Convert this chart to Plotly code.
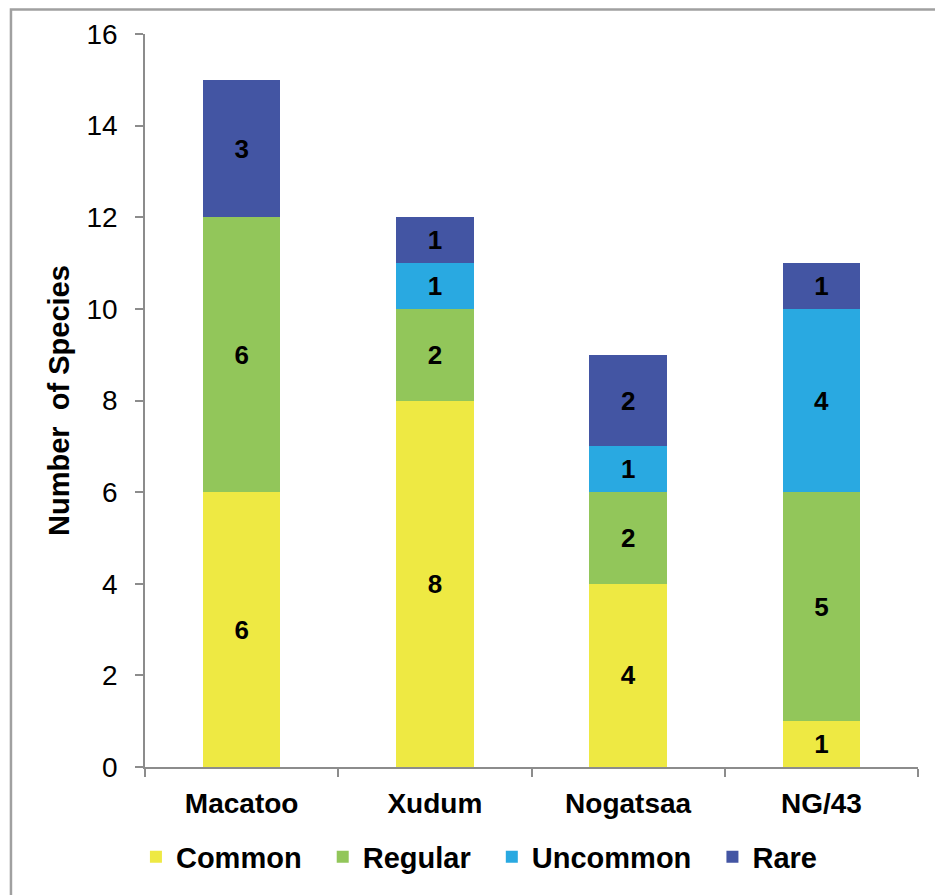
import plotly.graph_objects as go

sites = ["Macatoo", "Xudum", "Nogatsaa", "NG/43"]
common = [6, 8, 4, 1]
regular = [6, 2, 2, 5]
uncommon = [0, 1, 1, 4]
rare = [3, 1, 2, 1]
series_names = ["Common", "Regular", "Uncommon", "Rare"]
series_colors = ["#EEE943", "#92C65A", "#29A9E1", "#4355A3"]
y_ticks = [0, 2, 4, 6, 8, 10, 12, 14, 16]

FONT = "Liberation Sans, Arial, sans-serif"
PAD = "\u00a0\u00a0"

fig = go.Figure()
for i, (name, vals, col) in enumerate(zip(series_names, [common, regular, uncommon, rare], series_colors)):
    fig.add_trace(go.Bar(
        x=sites, y=vals, name=name + (PAD if i < len(series_names) - 1 else ""),
        marker_color=col, marker_line_width=0,
        width=0.4,
        text=[str(v) if v else "" for v in vals],
        textposition="inside", insidetextanchor="middle", textangle=0,
        constraintext="none",
        textfont=dict(family=FONT, size=26, color="black", weight="bold"),
    ))

fig.update_layout(
    width=935, height=887,
    barmode="stack",
    plot_bgcolor="white", paper_bgcolor="white",
    margin=dict(l=137, r=25, t=26, b=128),
    font=dict(family=FONT, color="black"),
    showlegend=True,
    legend=dict(orientation="h", x=0.432, xanchor="center", y=-0.1228, yanchor="middle",
                font=dict(family=FONT, size=29, color="black", weight="bold"),
                traceorder="normal", itemwidth=30),
    xaxis=dict(showline=True, linecolor="#8C8C8C", linewidth=1.5,
               ticks="outside", ticklen=8, tickcolor="#8C8C8C", tickwidth=1.5,
               tickson="boundaries", ticklabelstandoff=11,
               tickfont=dict(family=FONT, size=28, color="black", weight="bold")),
    yaxis=dict(range=[0, 16], tickvals=y_ticks, showgrid=False, zeroline=False,
               showline=True, linecolor="#8C8C8C", linewidth=1.5,
               ticks="outside", ticklen=8, tickcolor="#8C8C8C", tickwidth=1.5,
               ticklabelstandoff=12,
               tickfont=dict(family=FONT, size=28, color="black")),
    annotations=[dict(text="Number\u00a0 of Species", x=-0.112, y=0.5, xref="paper", yref="paper",
                      textangle=-90, showarrow=False, xanchor="center", yanchor="middle",
                      font=dict(family=FONT, size=29, color="black", weight="bold"))],
    shapes=[dict(type="rect", xref="paper", yref="paper", x0=-0.1734, x1=1.2, y0=-0.4, y1=1 + 24.5 / 733,
                 line=dict(color="#A0A0A0", width=2.5), fillcolor="rgba(0,0,0,0)", layer="above")],
)

fig.write_html("out.html")
